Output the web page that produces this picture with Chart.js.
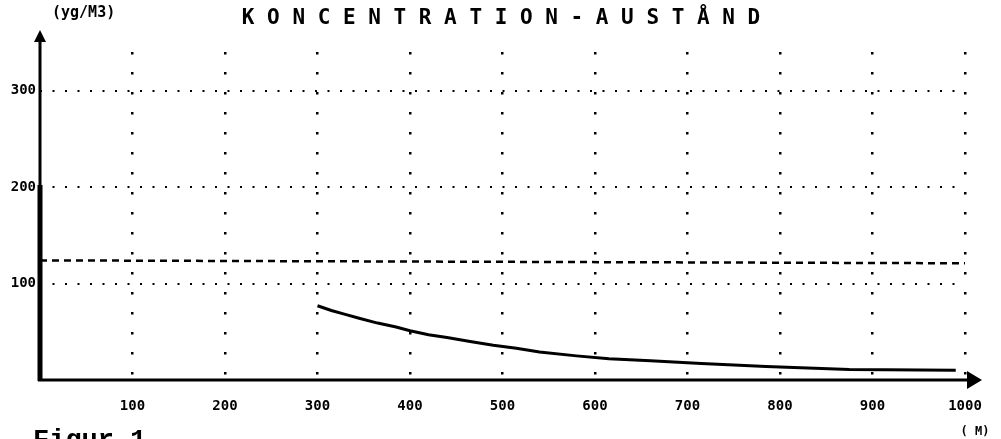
<!DOCTYPE html>
<html lang="sv">
<head>
  <meta charset="UTF-8"/>
  <title>Koncentration - avstånd</title>
  <script src="https://cdn.jsdelivr.net/npm/chart.js"></script>
  <style>
    html, body { margin: 0; padding: 0; background: #fff; }
    #wrap { width: 1001px; height: 439px; position: relative; }
  </style>
</head>
<body>
  <div id="wrap"><canvas id="chart"></canvas></div>

  <script>
    // data
    const xTicks = [100, 200, 300, 400, 500, 600, 700, 800, 900, 1000];
    const yTicks = [100, 200, 300];
    const curveX = [300, 315, 330, 345, 365, 385, 400, 420, 440, 465, 490, 515, 540, 580, 615, 660, 715, 785, 875, 990];
    const curveY = [77, 72, 68, 64, 59, 55, 51, 47, 44, 40, 36, 33, 29, 25, 22, 20, 17, 14, 11, 10];
    const limitX = [0, 1000];
    const limitY = [124, 121];

    const title = 'K O N C E N T R A T I O N - A U S T Å N D';
    const yUnit = '(yg/M3)';
    const xUnit = '( M)';
    const caption = 'Figur 1';

    const mono = "'DejaVu Sans Mono', 'Liberation Mono', monospace";

    // axes with arrows + extra texts
    const decor = {
      id: 'decor',
      afterDraw(chart) {
        const ctx = chart.ctx;
        const a = chart.chartArea;
        ctx.save();
        ctx.fillStyle = '#000';
        ctx.strokeStyle = '#000';
        ctx.setLineDash([]);

        // y axis (heavier on the lower part, like the print)
        ctx.lineWidth = 3;
        ctx.beginPath();
        ctx.moveTo(a.left, a.bottom + 1);
        ctx.lineTo(a.left, 38);
        ctx.stroke();
        ctx.lineWidth = 5;
        ctx.beginPath();
        ctx.moveTo(a.left, a.bottom + 1);
        ctx.lineTo(a.left, 185);
        ctx.stroke();
        ctx.beginPath();
        ctx.moveTo(a.left, 30);
        ctx.lineTo(a.left - 6, 42);
        ctx.lineTo(a.left + 6, 42);
        ctx.closePath();
        ctx.fill();

        // x axis
        ctx.lineWidth = 3;
        ctx.beginPath();
        ctx.moveTo(a.left - 2, a.bottom);
        ctx.lineTo(a.right + 8, a.bottom);
        ctx.stroke();
        ctx.beginPath();
        ctx.moveTo(a.right + 17, a.bottom);
        ctx.lineTo(a.right + 2, a.bottom - 9);
        ctx.lineTo(a.right + 2, a.bottom + 9);
        ctx.closePath();
        ctx.fill();

        // texts
        ctx.textBaseline = 'middle';
        ctx.textAlign = 'center';
        ctx.font = 'bold 21px ' + mono;
        ctx.fillText(title, 501, 19);

        ctx.textAlign = 'left';
        ctx.font = 'bold 15px ' + mono;
        ctx.fillText(yUnit, 52, 13);

        ctx.textAlign = 'center';
        ctx.font = 'bold 12px ' + mono;
        ctx.fillText(xUnit, 975, 432);

        ctx.textAlign = 'left';
        ctx.textBaseline = 'top';
        ctx.font = "bold 27px 'Liberation Mono', 'Courier New', monospace";
        ctx.fillText(caption, 33, 428);
        ctx.restore();
      }
    };

    const ctx = document.getElementById('chart').getContext('2d');
    new Chart(ctx, {
      type: 'line',
      data: {
        datasets: [
          {
            data: limitX.map((x, i) => ({ x: x, y: limitY[i] })),
            borderColor: '#000',
            borderWidth: 2.5,
            borderDash: [7, 5],
            pointRadius: 0,
            fill: false
          },
          {
            data: curveX.map((x, i) => ({ x: x, y: curveY[i] })),
            borderColor: '#000',
            borderWidth: 3,
            pointRadius: 0,
            fill: false
          }
        ]
      },
      options: {
        responsive: true,
        maintainAspectRatio: false,
        animation: false,
        layout: { padding: { left: 0, right: 36, top: 52, bottom: 0 } },
        plugins: {
          legend: { display: false },
          tooltip: { enabled: false }
        },
        scales: {
          x: {
            type: 'linear',
            min: 0,
            max: 1000,
            afterBuildTicks: s => { s.ticks = xTicks.map(v => ({ value: v })); },
            afterFit: s => { s.height = 59; },
            grid: { color: '#000', lineWidth: 2.5, drawTicks: false },
            border: { display: false, dash: [2.5, 17.5] },
            ticks: {
              color: '#000',
              padding: 18,
              maxRotation: 0,
              callback: v => String(v),
              font: { family: mono, size: 14, weight: 'bold' }
            }
          },
          y: {
            min: 0,
            max: 340,
            afterBuildTicks: s => { s.ticks = yTicks.map(v => ({ value: v })); },
            afterFit: s => { s.width = 40; },
            grid: { color: '#000', lineWidth: 2, drawTicks: false },
            border: { display: false, dash: [2, 10.5] },
            ticks: {
              color: '#000',
              padding: 4,
              callback: v => String(v),
              font: { family: mono, size: 14, weight: 'bold' }
            }
          }
        }
      },
      plugins: [decor]
    });
  </script>
</body>
</html>
